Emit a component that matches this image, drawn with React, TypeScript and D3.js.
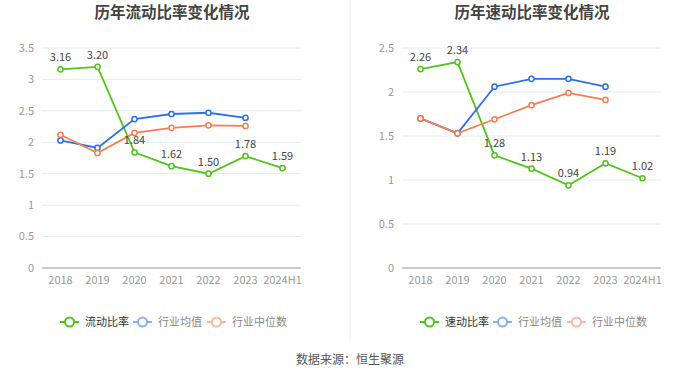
import React from "react";
import * as d3 from "d3";

const categories = ["2018", "2019", "2020", "2021", "2022", "2023", "2024H1"];
const currentRatio = [3.16, 3.2, 1.84, 1.62, 1.5, 1.78, 1.59];
const currentAvg = [2.03, 1.91, 2.37, 2.45, 2.47, 2.39];
const currentMedian = [2.12, 1.83, 2.15, 2.23, 2.27, 2.26];
const quickRatio = [2.26, 2.34, 1.28, 1.13, 0.94, 1.19, 1.02];
const quickAvg = [1.7, 1.53, 2.06, 2.15, 2.15, 2.06];
const quickMedian = [1.7, 1.53, 1.69, 1.85, 1.99, 1.91];
const currentTicks = [0, 0.5, 1, 1.5, 2, 2.5, 3, 3.5];
const quickTicks = [0, 0.5, 1, 1.5, 2, 2.5];

const GREEN = "#52c41a";
const BLUE = "#2e6fea";
const ORANGE = "#fa7d52";
const FONT = "'Noto Sans CJK SC', 'Noto Sans', sans-serif";

type PanelProps = {
  ox: number;
  title: string;
  mainName: string;
  main: number[];
  avg: number[];
  med: number[];
  ticks: number[];
  yMax: number;
};

function Panel({ ox, title, mainName, main, avg, med, ticks, yMax }: PanelProps) {
  const left = 42, right = 301, top = 48, bottom = 268;
  const x = d3.scaleBand<string>().domain(categories).range([left, right]);
  const y = d3.scaleLinear().domain([0, yMax]).range([bottom, top]);
  const cx = (i: number) => (x(categories[i]) as number) + x.bandwidth() / 2;
  const line = d3
    .line<number>()
    .x((_, i) => cx(i))
    .y((d) => y(d));

  const series = [
    { data: main, color: GREEN },
    { data: avg, color: BLUE },
    { data: med, color: ORANGE },
  ];

  const legendItems = [
    { name: mainName, color: GREEN, x: 60, tx: 85, op: 1, tc: "#333" },
    { name: "行业均值", color: BLUE, x: 133, tx: 158, op: 0.55, tc: "#888" },
    { name: "行业中位数", color: ORANGE, x: 207, tx: 232, op: 0.55, tc: "#888" },
  ];

  return (
    <g transform={`translate(${ox},0)`} fontFamily={FONT}>
      <text x={172} y={18} textAnchor="middle" fontSize={15.5} fontWeight="bold" fill="#444">
        {title}
      </text>
      {ticks.map((t) => (
        <g key={t}>
          <line x1={left} x2={right} y1={y(t)} y2={y(t)} stroke={t === 0 ? "#999" : "#e6eaf3"} strokeWidth={1} />
          <text x={left - 8} y={y(t)} dy="0.35em" textAnchor="end" fontSize={11} fill="#999">
            {t}
          </text>
        </g>
      ))}
      {categories.map((c, i) => (
        <text key={c} x={cx(i)} y={bottom + 16} textAnchor="middle" fontSize={11} fill="#999">
          {c}
        </text>
      ))}
      {series.map((s, si) => (
        <g key={si}>
          <path d={line(s.data) as string} fill="none" stroke={s.color} strokeWidth={1.8} />
          {s.data.map((v, i) => (
            <circle key={i} cx={cx(i)} cy={y(v)} r={2.6} fill="#fff" stroke={s.color} strokeWidth={1.5} />
          ))}
        </g>
      ))}
      {main.map((v, i) => (
        <text key={i} x={cx(i)} y={y(v) - 8} textAnchor="middle" fontSize={11} fill="#444">
          {v.toFixed(2)}
        </text>
      ))}
      {legendItems.map((l) => (
        <g key={l.name} opacity={1}>
          <g opacity={l.op}>
            <line x1={l.x} x2={l.x + 19} y1={322} y2={322} stroke={l.color} strokeWidth={2} />
            <circle cx={l.x + 9.5} cy={322} r={4.5} fill="#fff" stroke={l.color} strokeWidth={2} />
          </g>
          <text x={l.tx} y={322} dy="0.35em" fontSize={11} fill={l.tc}>
            {l.name}
          </text>
        </g>
      ))}
    </g>
  );
}

export default function App() {
  return (
    <svg
      width={700}
      height={378}
      style={{ position: "absolute", left: 0, top: 0, background: "#fff" }}
    >
      <line x1={350} x2={350} y1={0} y2={340} stroke="#f0f0f0" strokeWidth={1} />
      <Panel
        ox={0}
        title="历年流动比率变化情况"
        mainName="流动比率"
        main={currentRatio}
        avg={currentAvg}
        med={currentMedian}
        ticks={currentTicks}
        yMax={3.5}
      />
      <Panel
        ox={360}
        title="历年速动比率变化情况"
        mainName="速动比率"
        main={quickRatio}
        avg={quickAvg}
        med={quickMedian}
        ticks={quickTicks}
        yMax={2.5}
      />
      <text x={350} y={364} textAnchor="middle" fontSize={12} fill="#555" fontFamily={FONT}>
        数据来源：恒生聚源
      </text>
    </svg>
  );
}
